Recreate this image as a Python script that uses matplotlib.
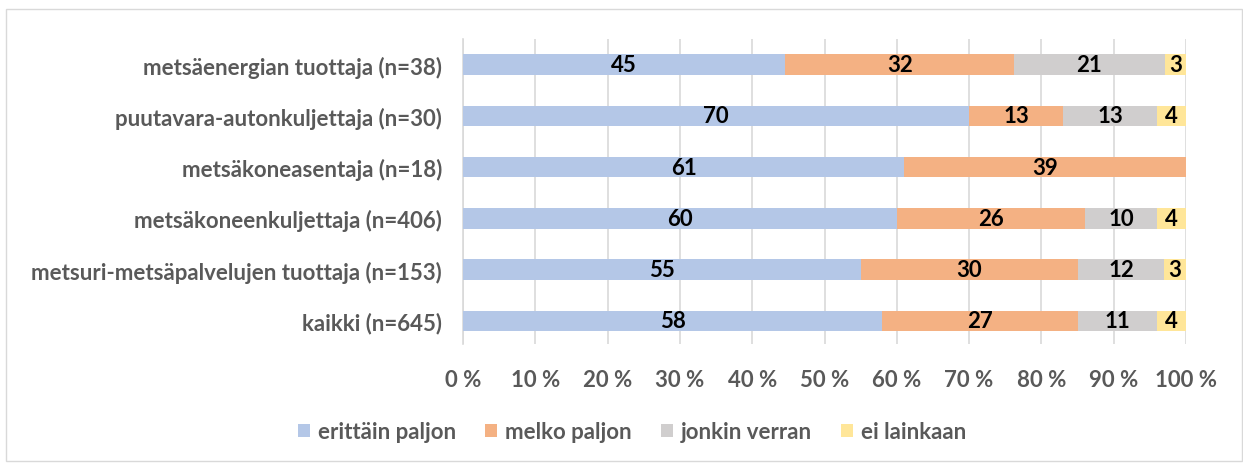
import numpy as np
import matplotlib.pyplot as plt
from matplotlib.patches import Rectangle

plt.rcParams['font.family'] = ['Lato', 'DejaVu Sans']

# Data (rows bottom -> top)
categories = ["kaikki (n=645)",
              "metsuri-metsäpalvelujen tuottaja (n=153)",
              "metsäkoneenkuljettaja (n=406)",
              "metsäkoneasentaja (n=18)",
              "puutavara-autonkuljettaja (n=30)",
              "metsäenergian tuottaja (n=38)"]
series = ["erittäin paljon", "melko paljon", "jonkin verran", "ei lainkaan"]
erittain = [58, 55, 60, 61, 70, 45]
melko = [27, 30, 26, 39, 13, 32]
jonkin = [11, 12, 10, 0, 13, 21]
ei = [4, 3, 4, 0, 4, 3]
colors = ["#B4C7E7", "#F4B183", "#D0CECE", "#FFE699"]
xticks = [0, 10, 20, 30, 40, 50, 60, 70, 80, 90, 100]

vals = np.array([erittain, melko, jonkin, ei], dtype=float)
pct = vals / vals.sum(axis=0) * 100

fig = plt.figure(figsize=(12.43, 4.64), dpi=100)
ax = fig.add_axes([463 / 1243, 1 - 345 / 464, (1186 - 463) / 1243, (345 - 40) / 464])

y = np.arange(len(categories))
left = np.zeros(len(categories))
for i, name in enumerate(series):
    ax.barh(y, pct[i], left=left, height=0.4, color=colors[i], label=name, zorder=3)
    for j in range(len(categories)):
        if vals[i, j] > 0:
            ax.text(left[j] + pct[i, j] / 2, y[j], f"{int(vals[i, j])}", ha="center", va="center",
                    fontsize=16, fontweight="bold", color="black", zorder=4)
    left += pct[i]

ax.set_xlim(0, 100)
ax.set_ylim(-0.45, 5.5)
ax.set_xticks(xticks)
ax.set_xticklabels([f"{t} %" for t in xticks], fontsize=16, fontweight="bold", color="#595959")
ax.set_yticks(y)
ax.set_yticklabels(categories, fontsize=16, fontweight="bold", color="#595959")
ax.tick_params(axis="both", length=0)
ax.tick_params(axis="x", pad=18)
ax.tick_params(axis="y", pad=15)
ax.grid(axis="x", color="#D9D9D9", linewidth=1.2, zorder=0)
for s in ["top", "right", "bottom"]:
    ax.spines[s].set_visible(False)
ax.spines["left"].set_color("#D9D9D9")
ax.spines["left"].set_linewidth(1.2)

leg = fig.legend(loc="center", bbox_to_anchor=(632 / 1243, 1 - 433 / 464), ncol=4, frameon=False,
                 handlelength=0.55, handleheight=0.55, handletextpad=0.35, columnspacing=1.3,
                 prop={"size": 16, "weight": "bold"})
for t in leg.get_texts():
    t.set_color("#595959")

fig.patches.append(Rectangle((6 / 1243, 0.005), 1 - 7 / 1243, 1 - 10 / 464 - 0.005,
                             transform=fig.transFigure, fill=False, edgecolor="#D9D9D9", linewidth=1))

fig.savefig("out.png", dpi=100)
